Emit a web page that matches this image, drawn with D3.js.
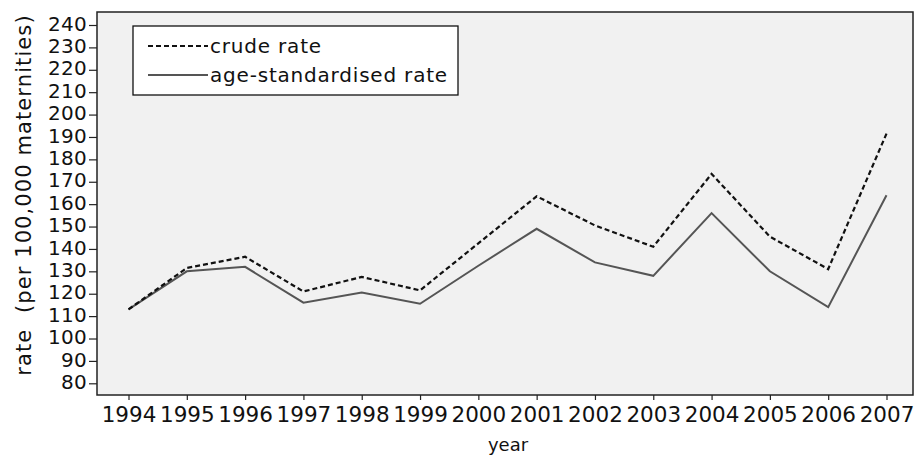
<!DOCTYPE html>
<html>
<head>
<meta charset="utf-8">
<script src="https://cdn.jsdelivr.net/npm/d3@7"></script>
<style>
  body { margin: 0; background: #fff; }
  text { font-family: "DejaVu Sans", sans-serif; fill: #111; }
</style>
</head>
<body>
<script>
// data
var years = [1994, 1995, 1996, 1997, 1998, 1999, 2000, 2001, 2002, 2003, 2004, 2005, 2006, 2007];
var crudeRate = [113, 131.5, 136.5, 121, 127.5, 121.5, 142.5, 163.5, 150.5, 141, 173.5, 145.5, 131, 191.5];
var ageStdRate = [113, 130, 132, 116, 120.5, 115.5, 132.5, 149, 134, 128, 156, 130, 114, 164];
var yTicks = d3.range(80, 241, 10);
var seriesNames = ["crude rate", "age-standardised rate"];

var width = 918,
    height = 459;

// plot box (note: "top" is taken by window.top)
var boxLeft = 97, boxRight = 913, boxTop = 12, boxBottom = 395;

var svg = d3.select("body").append("svg")
    .attr("width", width)
    .attr("height", height);

var x = d3.scaleLinear()
    .domain([1994, 2007])
    .range([128.5, 886.5]);

var y = d3.scaleLinear()
    .domain([80, 240])
    .range([383.3, 25]);

// plot area
svg.append("rect")
    .attr("x", boxLeft).attr("y", boxTop)
    .attr("width", boxRight - boxLeft).attr("height", boxBottom - boxTop)
    .attr("fill", "#f1f1f1")
    .attr("stroke", "#222")
    .attr("stroke-width", 1.5);

// y axis
var yAxis = svg.append("g")
    .attr("transform", "translate(" + boxLeft + ",0)")
    .call(d3.axisLeft(y).tickValues(yTicks).tickSize(8).tickPadding(2));
yAxis.select(".domain").remove();
yAxis.selectAll("line").attr("stroke", "#222").attr("stroke-width", 1.2);
yAxis.selectAll("text")
    .style("font-family", "DejaVu Sans, sans-serif")
    .attr("font-size", 20)
    .attr("letter-spacing", 0.3)
    .attr("dy", "0.26em")
    .attr("fill", "#111");

// x axis
var xAxis = svg.append("g")
    .attr("transform", "translate(0," + boxBottom + ")")
    .call(d3.axisBottom(x).tickValues(years).tickFormat(d3.format("d")).tickSize(5).tickPadding(7));
xAxis.select(".domain").remove();
xAxis.selectAll("line").attr("stroke", "#222").attr("stroke-width", 1.2);
xAxis.selectAll("text")
    .style("font-family", "DejaVu Sans, sans-serif")
    .attr("font-size", 21.5)
    .attr("fill", "#111");

// axis titles
svg.append("text")
    .attr("transform", "translate(31,195) rotate(-90)")
    .attr("text-anchor", "middle")
    .attr("font-size", 21)
    .attr("letter-spacing", 1.1)
    .text("rate\u00a0 (per 100,000 maternities)");

svg.append("text")
    .attr("x", 508).attr("y", 451)
    .attr("text-anchor", "middle")
    .attr("font-size", 18)
    .text("year");

// lines
var line = d3.line()
    .x(function(d, i) { return x(years[i]); })
    .y(function(d) { return y(d); });

svg.append("path")
    .datum(ageStdRate)
    .attr("d", line)
    .attr("fill", "none")
    .attr("stroke", "#555")
    .attr("stroke-width", 2);

svg.append("path")
    .datum(crudeRate)
    .attr("d", line)
    .attr("fill", "none")
    .attr("stroke", "#111")
    .attr("stroke-width", 2.2)
    .attr("stroke-dasharray", "5,3");

// legend
var legend = svg.append("g");
legend.append("rect")
    .attr("x", 133).attr("y", 26)
    .attr("width", 325).attr("height", 69)
    .attr("fill", "#fff")
    .attr("stroke", "#111")
    .attr("stroke-width", 1.3);

var legendStyles = [
  { stroke: "#111", dash: "5,3", width: 2 },
  { stroke: "#555", dash: null, width: 2 }
];
seriesNames.forEach(function(name, i) {
  var ly = 46 + i * 29;
  legend.append("line")
      .attr("x1", 148).attr("x2", 208)
      .attr("y1", ly).attr("y2", ly)
      .attr("stroke", legendStyles[i].stroke)
      .attr("stroke-width", legendStyles[i].width)
      .attr("stroke-dasharray", legendStyles[i].dash);
  legend.append("text")
      .attr("x", 210).attr("y", ly + 7)
      .attr("font-size", 20)
      .attr("letter-spacing", 0.8)
      .text(name);
});
</script>
</body>
</html>
